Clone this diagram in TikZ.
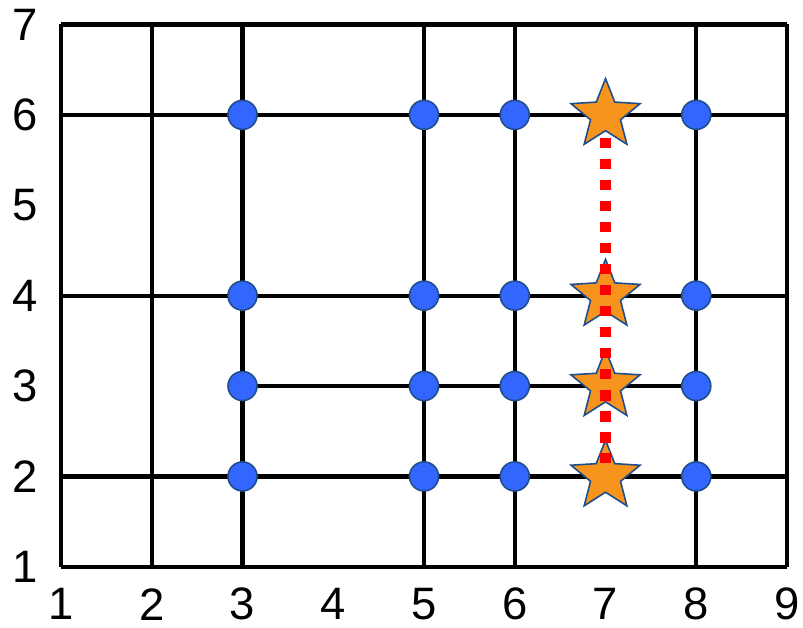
\documentclass[tikz,border=0pt]{standalone}
\usepackage{fontspec}
\setmainfont{Liberation Sans}
\usetikzlibrary{shapes.geometric}
\definecolor{dotblue}{RGB}{51,102,255}
\definecolor{edgeblue}{RGB}{31,78,140}
\definecolor{starorange}{RGB}{247,148,29}
\tikzset{
  gridline/.style={black, line width=2.7pt},
  dotnode/.style={circle, fill=dotblue, draw=edgeblue, line width=1pt, minimum size=0.64cm, inner sep=0pt},
  starnode/.style={star, star points=5, star point ratio=2.3, fill=starorange, draw=edgeblue, line width=1pt, minimum size=1.6cm, inner sep=0pt},
  redline/.style={red, line width=6.5pt, dash pattern=on 6.5pt off 6.7pt},
  ticklabel/.style={font=\fontsize{28.5}{28.5}\selectfont, inner sep=0pt}
}
\begin{document}
\begin{tikzpicture}[x=2cm, y=1.992cm]
\useasboundingbox (0.3278,0.325) rectangle (9.176,7.271);
% grid lines
\foreach \xx in {1,2,3,5,6,8,9} \draw[gridline] (\xx,1) -- (\xx,7);
\foreach \yy in {1,2,4,6,7} \draw[gridline] (1,\yy) -- (9,\yy);
\draw[gridline] (3,3) -- (8,3);
% axis labels
\foreach \xx in {1,...,9} \node[ticklabel] (xl\xx) at (\xx,0.585) {\xx};
\foreach \yy in {1,...,7} \node[ticklabel] (yl\yy) at (0.603,\yy) {\yy};
% dots
\foreach \yy in {2,3,4,6} {
  \foreach \xx in {3,5,6,8} \node[dotnode] (d\xx\yy) at (\xx,\yy) {};
}
% stars
\foreach \yy in {2,3,4,6} \node[starnode] (s\yy) at (7,\yy) {};
% red dotted connector
\draw[redline, shorten <=0.5cm, shorten >=0.3cm] (s6.center) -- (s2.center);
\end{tikzpicture}
\end{document}
